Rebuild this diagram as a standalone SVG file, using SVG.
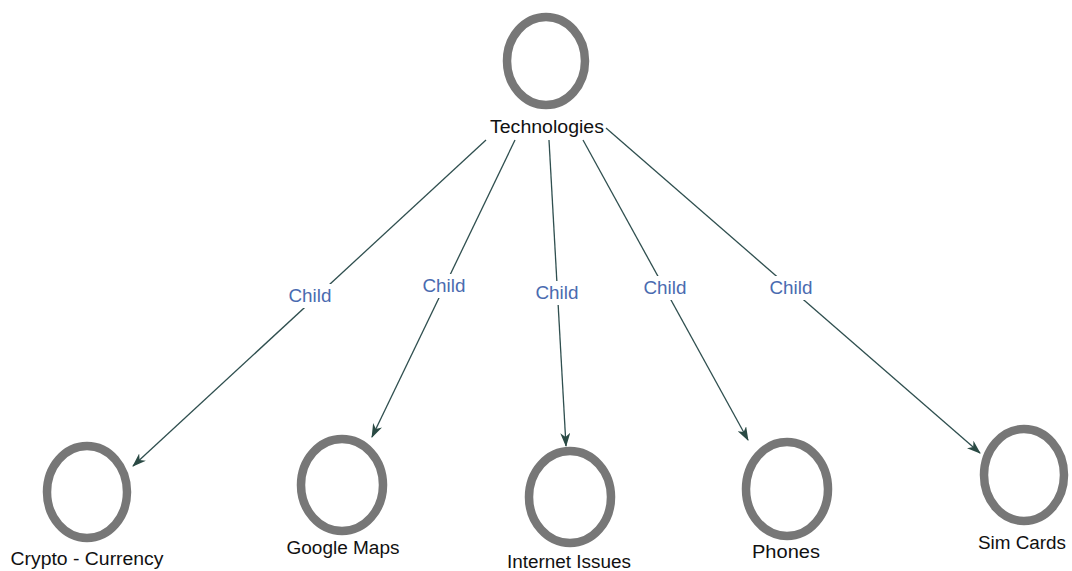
<svg xmlns="http://www.w3.org/2000/svg" width="1072" height="571" viewBox="0 0 1072 571">
<style>
.node ellipse{fill:#fff;stroke:#777;stroke-width:8.5}
.lbl{font-family:"Liberation Sans",Arial,sans-serif;font-size:18px;fill:#111;text-anchor:middle}
.edge{stroke:#2f4f4f;stroke-width:1.3;fill:none;marker-end:url(#arr)}
.el{font-family:"Liberation Sans",Arial,sans-serif;font-size:18px;fill:#4a6bb0;text-anchor:middle}
</style>
<defs>
<marker id="arr" viewBox="0 0 14 10" refX="13" refY="5" markerWidth="14" markerHeight="10" markerUnits="userSpaceOnUse" orient="auto">
<path d="M0,0 L14,5 L0,10 L4,5 Z" fill="#2a4a44"/>
</marker>
</defs>
<rect width="1072" height="571" fill="#fff"/>
<g id="connectors">
<line class="edge" x1="486" y1="140" x2="133" y2="466"/>
<line class="edge" x1="515" y1="140" x2="372" y2="437"/>
<line class="edge" x1="549" y1="140" x2="566" y2="446"/>
<line class="edge" x1="583" y1="140" x2="748" y2="440"/>
<line class="edge" x1="606" y1="128" x2="980" y2="453"/>
<rect x="287" y="284" width="46" height="24" fill="#fff"/>
<rect x="421" y="274" width="46" height="24" fill="#fff"/>
<rect x="534" y="281" width="46" height="24" fill="#fff"/>
<rect x="642" y="276" width="46" height="24" fill="#fff"/>
<rect x="768" y="276" width="46" height="24" fill="#fff"/>
<text class="el" x="310" y="302" textLength="43" lengthAdjust="spacingAndGlyphs">Child</text>
<text class="el" x="444" y="292" textLength="43" lengthAdjust="spacingAndGlyphs">Child</text>
<text class="el" x="557" y="299" textLength="43" lengthAdjust="spacingAndGlyphs">Child</text>
<text class="el" x="665" y="294" textLength="43" lengthAdjust="spacingAndGlyphs">Child</text>
<text class="el" x="791" y="294" textLength="43" lengthAdjust="spacingAndGlyphs">Child</text>
</g>
<g id="technologies" class="node"><ellipse cx="546" cy="61" rx="39" ry="44"/><text class="lbl" x="547" y="133" textLength="114" lengthAdjust="spacingAndGlyphs">Technologies</text></g>
<g id="crypto" class="node"><ellipse cx="87" cy="492" rx="40" ry="46"/><text class="lbl" x="87" y="565" textLength="153" lengthAdjust="spacingAndGlyphs">Crypto - Currency</text></g>
<g id="googlemaps" class="node"><ellipse cx="342" cy="485" rx="41" ry="46"/><text class="lbl" x="343" y="554" textLength="113" lengthAdjust="spacingAndGlyphs">Google Maps</text></g>
<g id="internet" class="node"><ellipse cx="570" cy="497" rx="41" ry="46"/><text class="lbl" x="569" y="568" textLength="124" lengthAdjust="spacingAndGlyphs">Internet Issues</text></g>
<g id="phones" class="node"><ellipse cx="787" cy="489" rx="41" ry="47"/><text class="lbl" x="786" y="558" textLength="68" lengthAdjust="spacingAndGlyphs">Phones</text></g>
<g id="simcards" class="node"><ellipse cx="1024" cy="475" rx="40" ry="46"/><text class="lbl" x="1022" y="549" textLength="88" lengthAdjust="spacingAndGlyphs">Sim Cards</text></g>
</svg>
